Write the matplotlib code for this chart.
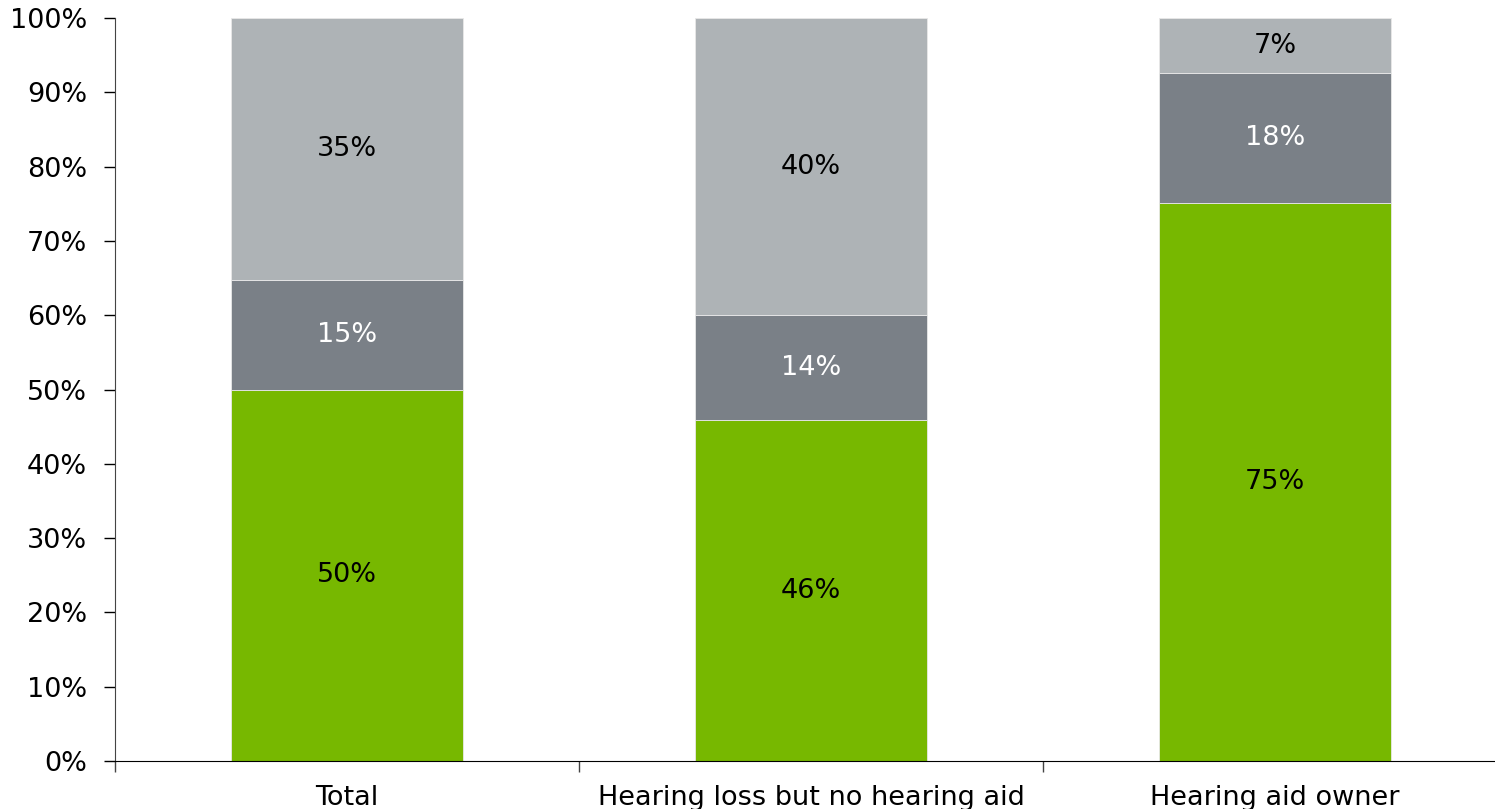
import matplotlib
matplotlib.use('Agg')
import matplotlib.pyplot as plt
from matplotlib.ticker import FixedLocator, PercentFormatter

categories = ['Total', 'Hearing loss but no hearing aid', 'Hearing aid owner']
green_vals = [50.0, 45.9, 75.1]
dark_vals = [14.7, 14.1, 17.5]
light_vals = [35.3, 40.0, 7.4]

green = '#77B800'
dark = '#7A8087'
light = '#AEB3B6'

plt.rcParams['font.family'] = ['DejaVu Sans']

fig = plt.figure(figsize=(14.95, 8.09), dpi=100)
ax = fig.add_axes([0.0769, 0.0593, 0.9311, 0.9184])

x = range(len(categories))
bottoms = [0.0] * len(categories)
for vals, col, txtcol in [(green_vals, green, 'black'),
                          (dark_vals, dark, 'white'),
                          (light_vals, light, 'black')]:
    ax.bar(x, vals, width=0.5, bottom=bottoms, color=col,
           edgecolor='#e8e8e8', linewidth=0.6)
    for i, v in enumerate(vals):
        ax.text(i, bottoms[i] + v / 2, f'{round(v)}%', ha='center', va='center',
                fontsize=19.5, color=txtcol)
    bottoms = [b + v for b, v in zip(bottoms, vals)]

ax.set_xlim(-0.5, 2.5)
ax.set_ylim(0, 100)
ax.set_yticks(range(0, 101, 10))
ax.yaxis.set_major_formatter(PercentFormatter(decimals=0))
ax.set_xticks(list(x))
ax.set_xticklabels(categories)
ax.xaxis.set_minor_locator(FixedLocator([-0.5, 0.5, 1.5, 2.5]))
ax.tick_params(axis='x', which='major', length=0, pad=17, labelsize=19.5)
ax.tick_params(axis='x', which='minor', length=8, width=1, color='#444444')
ax.tick_params(axis='y', length=8, width=1, pad=12, labelsize=19.5)

for side in ['top', 'right']:
    ax.spines[side].set_visible(False)
ax.spines['left'].set_color('#444444')
ax.spines['bottom'].set_color('black')

plt.savefig('out.png', dpi=100)
